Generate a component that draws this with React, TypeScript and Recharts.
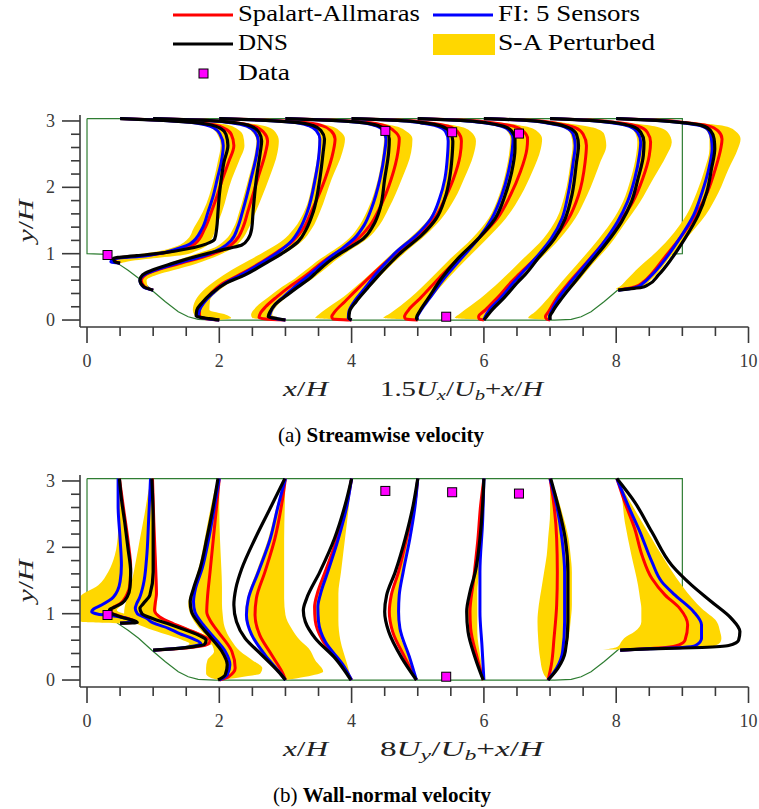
import React from 'react';
import { ComposedChart, Line, Area, XAxis, YAxis } from 'recharts';

// ---------- tick labels ----------
const X_TICKS = [0, 0.5, 1, 1.5, 2, 2.5, 3, 3.5, 4, 4.5, 5, 5.5, 6, 6.5, 7, 7.5, 8, 8.5, 9, 9.5, 10];
const Y_TICKS = [0, 0.2, 0.4, 0.6, 0.8, 1, 1.2, 1.4, 1.6, 1.8, 2, 2.2, 2.4, 2.6, 2.8, 3];

// ---------- geometry (hill + channel outline) ----------
const HILL_X = [0, 0.3, 0.47, 0.62, 0.78, 0.98, 1.18, 1.38, 1.53, 1.68, 1.93, 7.07, 7.32, 7.47, 7.62, 7.82, 8.02, 8.22, 8.38, 8.53, 8.7, 9.0];
const HILL_Y = [1.0, 0.99, 0.85, 0.75, 0.63, 0.45, 0.28, 0.125, 0.05, 0.01, 0, 0, 0.01, 0.05, 0.125, 0.28, 0.45, 0.63, 0.75, 0.85, 0.99, 1.0];
const TOP_WALL = 3.036;

// ---------- sensor locations ----------
const SENSOR_X = [0.31, 4.51, 5.52, 6.53, 5.43];
const SENSOR_Y = [0.98, 2.85, 2.83, 2.81, 0.05];

type P = [number, number];
type T = [number, number, number];

// ---------- (a) streamwise velocity: [y/H, 1.5Ux/Ub + x/H] per station ----------
const U_DNS: P[][] = [
  [[0.857,0.5],[0.88,0.42],[0.93,0.4],[0.97,0.75],[1.02,1.2],[1.07,1.5],[1.12,1.72],[1.17,1.86],[1.22,1.93],[1.38,1.96],[1.63,1.98],[1.88,2.0],[2.13,2.03],[2.38,2.07],[2.63,2.13],[2.8,2.1],[2.88,2.03],[2.94,1.88],[2.98,1.6],[3.01,1.15],[3.036,0.5]],
  [[0.45,1.0],[0.5,0.86],[0.6,0.8],[0.68,0.84],[0.75,0.98],[0.85,1.28],[0.98,1.73],[1.08,2.14],[1.13,2.34],[1.23,2.44],[1.38,2.49],[1.63,2.51],[2.13,2.56],[2.53,2.62],[2.7,2.64],[2.83,2.6],[2.92,2.48],[2.97,2.25],[3.01,1.8],[3.036,1.0]],
  [[0,2.0],[0.02,1.85],[0.06,1.65],[0.15,1.66],[0.25,1.73],[0.4,1.88],[0.55,2.09],[0.68,2.39],[0.85,2.69],[1.03,2.99],[1.18,3.19],[1.38,3.32],[1.63,3.42],[2.13,3.52],[2.53,3.57],[2.73,3.59],[2.85,3.54],[2.93,3.42],[2.98,3.15],[3.01,2.7],[3.036,2.0]],
  [[0,3.0],[0.02,2.88],[0.05,2.74],[0.13,2.77],[0.23,2.84],[0.35,2.99],[0.5,3.19],[0.63,3.37],[0.73,3.48],[0.93,3.72],[1.08,3.95],[1.23,4.18],[1.43,4.33],[1.68,4.43],[2.13,4.5],[2.53,4.56],[2.73,4.57],[2.85,4.52],[2.93,4.4],[2.98,4.12],[3.01,3.7],[3.036,3.0]],
  [[0,4.0],[0.03,3.96],[0.13,3.97],[0.28,4.07],[0.48,4.24],[0.73,4.46],[1.03,4.76],[1.28,5.06],[1.53,5.28],[1.83,5.41],[2.13,5.48],[2.48,5.52],[2.7,5.53],[2.84,5.48],[2.92,5.36],[2.97,5.1],[3.01,4.7],[3.036,4.0]],
  [[0,5.0],[0.03,4.98],[0.15,5.04],[0.33,5.16],[0.63,5.36],[0.93,5.61],[1.23,5.92],[1.53,6.17],[1.88,6.32],[2.23,6.42],[2.58,6.47],[2.73,6.47],[2.85,6.42],[2.92,6.3],[2.97,6.05],[3.01,5.65],[3.036,5.0]],
  [[0,6.0],[0.05,6.04],[0.15,6.12],[0.33,6.3],[0.58,6.52],[0.68,6.62],[0.93,6.82],[1.23,7.07],[1.53,7.23],[1.88,7.33],[2.38,7.4],[2.63,7.43],[2.8,7.4],[2.9,7.28],[2.96,7.05],[3.01,6.65],[3.036,6.0]],
  [[0,7.0],[0.05,7.0],[0.13,7.04],[0.33,7.18],[0.58,7.38],[0.83,7.58],[1.13,7.83],[1.48,8.08],[1.78,8.23],[2.13,8.33],[2.48,8.41],[2.68,8.42],[2.83,8.37],[2.92,8.24],[2.97,8.0],[3.01,7.6],[3.036,7.0]],
  [[0.45,8.03],[0.47,8.2],[0.49,8.38],[0.53,8.48],[0.68,8.64],[0.93,8.84],[1.23,9.04],[1.58,9.24],[1.93,9.37],[2.28,9.44],[2.58,9.49],[2.73,9.48],[2.85,9.43],[2.93,9.3],[2.97,9.05],[3.01,8.6],[3.036,8.0]],
];
const U_SA: P[][] = [
  [[0.857,0.5],[0.88,0.42],[0.93,0.45],[0.98,0.95],[1.03,1.25],[1.08,1.45],[1.15,1.63],[1.38,1.78],[1.63,1.88],[1.88,1.97],[2.13,2.05],[2.38,2.14],[2.63,2.22],[2.8,2.18],[2.88,2.09],[2.94,1.93],[2.98,1.63],[3.01,1.15],[3.036,0.5]],
  [[0.45,1.0],[0.5,0.87],[0.6,0.82],[0.68,0.88],[0.75,1.05],[0.85,1.4],[0.98,1.85],[1.08,2.1],[1.2,2.25],[1.4,2.36],[1.63,2.43],[2.13,2.58],[2.53,2.7],[2.7,2.73],[2.83,2.67],[2.92,2.52],[2.97,2.28],[3.01,1.8],[3.036,1.0]],
  [[0,2.0],[0.02,1.8],[0.06,1.7],[0.15,1.7],[0.25,1.75],[0.4,1.87],[0.55,2.05],[0.68,2.3],[0.85,2.6],[1.03,2.88],[1.18,3.1],[1.38,3.27],[1.63,3.39],[2.13,3.6],[2.53,3.72],[2.73,3.75],[2.85,3.69],[2.93,3.55],[2.98,3.25],[3.01,2.75],[3.036,2.0]],
  [[0,3.0],[0.015,2.7],[0.04,2.6],[0.1,2.62],[0.2,2.7],[0.35,2.87],[0.5,3.06],[0.63,3.25],[0.73,3.38],[0.93,3.64],[1.08,3.88],[1.23,4.1],[1.43,4.28],[1.68,4.42],[2.13,4.6],[2.53,4.7],[2.73,4.72],[2.85,4.64],[2.93,4.5],[2.98,4.2],[3.01,3.75],[3.036,3.0]],
  [[0,4.0],[0.015,3.72],[0.05,3.7],[0.13,3.75],[0.28,3.9],[0.48,4.1],[0.73,4.36],[1.03,4.7],[1.28,5.0],[1.53,5.25],[1.83,5.41],[2.13,5.54],[2.48,5.64],[2.7,5.66],[2.84,5.6],[2.92,5.46],[2.97,5.18],[3.01,4.75],[3.036,4.0]],
  [[0,5.0],[0.015,4.82],[0.05,4.8],[0.15,4.86],[0.33,5.04],[0.63,5.32],[0.93,5.62],[1.23,5.92],[1.53,6.2],[1.88,6.4],[2.23,6.55],[2.58,6.65],[2.73,6.66],[2.85,6.59],[2.92,6.45],[2.97,6.15],[3.01,5.72],[3.036,5.0]],
  [[0,6.0],[0.015,5.93],[0.05,5.92],[0.15,6.02],[0.33,6.2],[0.58,6.42],[0.68,6.52],[0.93,6.78],[1.23,7.06],[1.53,7.28],[1.88,7.43],[2.38,7.53],[2.63,7.55],[2.8,7.5],[2.9,7.38],[2.96,7.12],[3.01,6.7],[3.036,6.0]],
  [[0,7.0],[0.015,6.95],[0.05,6.93],[0.13,6.98],[0.33,7.1],[0.58,7.3],[0.83,7.52],[1.13,7.78],[1.48,8.05],[1.78,8.25],[2.13,8.4],[2.48,8.5],[2.68,8.52],[2.83,8.47],[2.92,8.33],[2.97,8.07],[3.01,7.65],[3.036,7.0]],
  [[0.45,8.03],[0.47,8.14],[0.5,8.28],[0.58,8.42],[0.68,8.52],[0.93,8.72],[1.23,8.96],[1.58,9.2],[1.93,9.38],[2.28,9.5],[2.58,9.58],[2.73,9.6],[2.85,9.54],[2.93,9.38],[2.97,9.1],[3.01,8.65],[3.036,8.0]],
];
const U_FI: P[][] = [
  [[0.857,0.5],[0.88,0.36],[0.92,0.4],[0.97,0.9],[1.02,1.18],[1.08,1.38],[1.15,1.56],[1.38,1.74],[1.63,1.83],[1.88,1.91],[2.13,1.97],[2.38,2.03],[2.63,2.06],[2.8,2.01],[2.88,1.94],[2.94,1.8],[2.98,1.55],[3.01,1.1],[3.036,0.5]],
  [[0.45,1.0],[0.5,0.85],[0.6,0.8],[0.68,0.86],[0.75,1.02],[0.85,1.35],[0.98,1.8],[1.08,2.03],[1.2,2.18],[1.4,2.28],[1.63,2.35],[2.13,2.48],[2.53,2.57],[2.7,2.59],[2.83,2.54],[2.92,2.42],[2.97,2.2],[3.01,1.75],[3.036,1.0]],
  [[0,2.0],[0.02,1.82],[0.06,1.68],[0.15,1.7],[0.25,1.76],[0.4,1.9],[0.55,2.08],[0.68,2.33],[0.85,2.62],[1.03,2.9],[1.18,3.08],[1.38,3.22],[1.63,3.33],[2.13,3.45],[2.53,3.51],[2.73,3.52],[2.85,3.47],[2.93,3.35],[2.98,3.1],[3.01,2.65],[3.036,2.0]],
  [[0,3.0],[0.02,2.86],[0.05,2.76],[0.13,2.78],[0.23,2.84],[0.35,2.97],[0.5,3.14],[0.63,3.3],[0.73,3.42],[0.93,3.65],[1.08,3.86],[1.23,4.04],[1.43,4.19],[1.68,4.3],[2.13,4.43],[2.53,4.5],[2.73,4.52],[2.85,4.48],[2.93,4.36],[2.98,4.08],[3.01,3.65],[3.036,3.0]],
  [[0,4.0],[0.03,3.95],[0.13,3.96],[0.28,4.04],[0.48,4.2],[0.73,4.4],[1.03,4.68],[1.28,4.98],[1.53,5.2],[1.83,5.33],[2.13,5.41],[2.48,5.45],[2.7,5.46],[2.84,5.42],[2.92,5.3],[2.97,5.05],[3.01,4.65],[3.036,4.0]],
  [[0,5.0],[0.03,4.99],[0.15,5.05],[0.33,5.18],[0.63,5.4],[0.93,5.66],[1.23,5.92],[1.53,6.12],[1.88,6.27],[2.23,6.37],[2.58,6.43],[2.73,6.44],[2.85,6.39],[2.92,6.27],[2.97,6.02],[3.01,5.6],[3.036,5.0]],
  [[0,6.0],[0.05,6.02],[0.15,6.08],[0.33,6.25],[0.58,6.46],[0.68,6.55],[0.93,6.78],[1.23,7.02],[1.53,7.18],[1.88,7.27],[2.38,7.35],[2.63,7.38],[2.8,7.35],[2.9,7.24],[2.96,7.0],[3.01,6.6],[3.036,6.0]],
  [[0,7.0],[0.05,6.99],[0.13,7.02],[0.33,7.13],[0.58,7.32],[0.83,7.53],[1.13,7.78],[1.48,8.02],[1.78,8.17],[2.13,8.28],[2.48,8.35],[2.68,8.37],[2.83,8.32],[2.92,8.2],[2.97,7.95],[3.01,7.55],[3.036,7.0]],
  [[0.45,8.03],[0.47,8.2],[0.5,8.32],[0.55,8.4],[0.68,8.54],[0.93,8.75],[1.23,8.96],[1.58,9.17],[1.93,9.3],[2.28,9.4],[2.58,9.45],[2.73,9.44],[2.85,9.4],[2.93,9.27],[2.97,9.02],[3.01,8.58],[3.036,8.0]],
];
const U_BAND: T[][] = [
  [[0.857,0.5,0.5],[0.88,0.36,0.6],[0.93,0.38,1.0],[0.98,0.7,1.45],[1.04,1.1,1.65],[1.1,1.32,1.78],[1.2,1.5,1.87],[1.4,1.62,1.95],[1.63,1.75,2.04],[2.13,1.92,2.19],[2.4,1.98,2.3],[2.63,2.02,2.38],[2.78,1.98,2.36],[2.88,1.9,2.27],[2.95,1.75,2.08],[3.0,1.3,1.5],[3.036,0.5,0.5]],
  [[0.45,1.0,1.0],[0.5,0.84,0.92],[0.6,0.78,0.9],[0.68,0.82,1.05],[0.75,0.95,1.3],[0.85,1.22,1.65],[0.98,1.6,2.0],[1.08,1.9,2.2],[1.2,2.08,2.33],[1.4,2.22,2.45],[1.63,2.3,2.55],[2.13,2.44,2.75],[2.53,2.54,2.88],[2.7,2.56,2.9],[2.83,2.5,2.85],[2.92,2.38,2.7],[2.97,2.15,2.4],[3.01,1.7,1.9],[3.036,1.0,1.0]],
  [[0,2.0,2.0],[0.03,1.7,2.18],[0.08,1.62,2.1],[0.15,1.6,1.85],[0.3,1.64,1.86],[0.45,1.76,2.0],[0.6,1.95,2.22],[0.75,2.18,2.5],[0.9,2.45,2.8],[1.03,2.68,3.03],[1.18,2.93,3.24],[1.38,3.13,3.4],[1.63,3.28,3.52],[2.13,3.42,3.7],[2.53,3.49,3.86],[2.73,3.5,3.9],[2.85,3.45,3.82],[2.93,3.33,3.65],[2.98,3.08,3.3],[3.01,2.6,2.8],[3.036,2.0,2.0]],
  [[0,3.0,3.0],[0.03,2.5,2.9],[0.08,2.48,2.8],[0.2,2.56,2.86],[0.35,2.75,3.02],[0.5,2.95,3.22],[0.63,3.15,3.42],[0.73,3.28,3.55],[0.93,3.54,3.8],[1.08,3.77,4.02],[1.23,3.96,4.24],[1.43,4.12,4.42],[1.68,4.25,4.56],[2.13,4.4,4.76],[2.53,4.47,4.9],[2.73,4.49,4.92],[2.85,4.45,4.82],[2.93,4.33,4.62],[2.98,4.05,4.3],[3.01,3.6,3.8],[3.036,3.0,3.0]],
  [[0,4.0,4.0],[0.03,3.45,3.98],[0.08,3.5,3.96],[0.2,3.66,4.02],[0.35,3.88,4.12],[0.5,4.06,4.28],[0.73,4.32,4.5],[1.03,4.64,4.82],[1.28,4.93,5.12],[1.53,5.17,5.36],[1.83,5.32,5.56],[2.13,5.4,5.7],[2.48,5.44,5.84],[2.7,5.45,5.88],[2.84,5.4,5.8],[2.92,5.28,5.62],[2.97,5.03,5.3],[3.01,4.6,4.85],[3.036,4.0,4.0]],
  [[0,5.0,5.0],[0.03,4.48,5.0],[0.1,4.58,5.02],[0.33,4.88,5.2],[0.63,5.2,5.46],[0.93,5.5,5.75],[1.23,5.82,6.05],[1.53,6.07,6.33],[1.88,6.23,6.56],[2.23,6.33,6.73],[2.58,6.39,6.86],[2.73,6.4,6.88],[2.85,6.35,6.8],[2.92,6.23,6.62],[2.97,5.98,6.3],[3.01,5.55,5.8],[3.036,5.0,5.0]],
  [[0,6.0,6.0],[0.03,5.56,6.0],[0.1,5.64,6.04],[0.33,5.95,6.28],[0.58,6.24,6.5],[0.93,6.6,6.86],[1.23,6.9,7.15],[1.53,7.1,7.38],[1.88,7.22,7.56],[2.38,7.31,7.76],[2.63,7.34,7.85],[2.8,7.31,7.82],[2.9,7.2,7.65],[2.96,6.98,7.3],[3.01,6.55,6.8],[3.036,6.0,6.0]],
  [[0,7.0,7.0],[0.03,6.67,7.0],[0.13,6.78,7.02],[0.33,6.97,7.18],[0.58,7.18,7.42],[0.83,7.4,7.63],[1.13,7.66,7.9],[1.48,7.93,8.15],[1.78,8.1,8.36],[2.13,8.22,8.56],[2.48,8.3,8.76],[2.68,8.32,8.84],[2.83,8.28,8.78],[2.92,8.15,8.58],[2.97,7.92,8.2],[3.01,7.5,7.75],[3.036,7.0,7.0]],
  [[0.45,8.03,8.03],[0.47,8.0,8.12],[0.5,8.05,8.38],[0.6,8.15,8.52],[0.8,8.35,8.7],[0.93,8.5,8.8],[1.23,8.8,9.06],[1.58,9.06,9.35],[1.93,9.22,9.55],[2.28,9.34,9.7],[2.58,9.41,9.84],[2.73,9.41,9.88],[2.85,9.37,9.8],[2.93,9.24,9.6],[2.97,9.0,9.25],[3.01,8.55,8.75],[3.036,8.0,8.0]],
];

// ---------- (b) wall-normal velocity: [y/H, 8Uy/Ub + x/H] per station ----------
const V_DNS: P[][] = [
  [[0.857,0.5],[0.865,0.76],[0.885,0.74],[0.92,0.62],[0.97,0.46],[1.02,0.34],[1.06,0.34],[1.1,0.42],[1.16,0.53],[1.26,0.61],[1.4,0.65],[1.63,0.66],[1.98,0.62],[2.38,0.57],[2.73,0.52],[3.036,0.49]],
  [[0.45,1.0],[0.47,1.3],[0.5,1.6],[0.54,1.78],[0.6,1.8],[0.67,1.7],[0.75,1.5],[0.83,1.28],[0.93,0.98],[1.0,0.83],[1.08,0.8],[1.15,0.85],[1.28,0.95],[1.63,1.0],[2.38,1.0],[3.036,0.98]],
  [[0,1.98],[0.08,2.09],[0.23,2.12],[0.43,2.04],[0.63,1.88],[0.83,1.71],[1.03,1.58],[1.18,1.56],[1.38,1.61],[1.68,1.71],[2.13,1.81],[2.63,1.91],[3.036,1.98]],
  [[0,3.0],[0.13,2.89],[0.38,2.64],[0.63,2.39],[0.88,2.26],[1.13,2.22],[1.38,2.25],[1.68,2.34],[2.13,2.54],[2.63,2.79],[3.036,2.99]],
  [[0,3.99],[0.33,3.75],[0.63,3.45],[0.88,3.3],[1.05,3.27],[1.23,3.32],[1.63,3.52],[2.13,3.74],[2.63,3.9],[3.036,4.0]],
  [[0,4.98],[0.33,4.76],[0.73,4.56],[1.03,4.5],[1.28,4.53],[1.63,4.66],[2.13,4.81],[2.63,4.93],[3.036,5.0]],
  [[0,5.99],[0.33,5.87],[0.73,5.76],[1.03,5.74],[1.33,5.79],[1.63,5.87],[2.13,5.94],[2.63,5.98],[3.036,6.0]],
  [[0,6.97],[0.18,7.12],[0.43,7.23],[0.88,7.27],[1.63,7.27],[2.13,7.23],[2.63,7.12],[3.036,7.01]],
  [[0.45,8.06],[0.47,8.5],[0.49,9.3],[0.52,9.7],[0.6,9.85],[0.73,9.87],[0.93,9.74],[1.18,9.44],[1.43,9.14],[1.73,8.84],[2.23,8.54],[2.68,8.28],[3.036,8.01]],
];
const V_SA: P[][] = [
  [[0.857,0.5],[0.87,0.72],[0.9,0.7],[0.94,0.58],[0.98,0.44],[1.03,0.36],[1.08,0.38],[1.15,0.5],[1.28,0.6],[1.45,0.65],[1.7,0.66],[2.1,0.62],[2.6,0.55],[3.036,0.49]],
  [[0.45,1.0],[0.47,1.35],[0.5,1.65],[0.55,1.84],[0.6,1.86],[0.66,1.76],[0.75,1.55],[0.85,1.3],[0.95,1.1],[1.05,1.02],[1.15,1.03],[1.3,1.05],[1.63,1.04],[2.38,1.01],[3.036,0.99]],
  [[0,2.0],[0.05,2.14],[0.18,2.24],[0.43,2.19],[0.73,1.98],[0.9,1.86],[1.03,1.81],[1.23,1.82],[1.63,1.86],[2.13,1.91],[2.63,1.96],[3.036,2.0]],
  [[0,3.0],[0.08,2.97],[0.38,2.79],[0.68,2.61],[0.98,2.54],[1.23,2.56],[1.63,2.69],[2.13,2.84],[2.63,2.94],[3.036,3.0]],
  [[0,4.0],[0.25,3.84],[0.6,3.56],[0.9,3.45],[1.1,3.44],[1.3,3.48],[1.63,3.6],[2.13,3.78],[2.63,3.92],[3.036,4.0]],
  [[0,4.98],[0.33,4.81],[0.73,4.62],[1.03,4.57],[1.28,4.6],[1.63,4.71],[2.13,4.83],[2.63,4.95],[3.036,5.0]],
  [[0,5.99],[0.33,5.9],[0.78,5.8],[1.03,5.79],[1.48,5.84],[2.13,5.91],[2.63,5.95],[3.036,6.0]],
  [[0,6.97],[0.23,7.02],[0.63,7.06],[1.13,7.1],[1.63,7.11],[2.13,7.1],[2.63,7.06],[3.036,7.0]],
  [[0.45,8.06],[0.47,8.45],[0.49,8.75],[0.53,8.95],[0.6,9.04],[0.83,9.08],[1.08,8.96],[1.28,8.74],[1.53,8.54],[1.88,8.39],[2.28,8.28],[2.68,8.13],[3.036,8.01]],
];
const V_FI: P[][] = [
  [[0.857,0.5],[0.875,0.68],[0.9,0.66],[0.93,0.6],[0.97,0.37],[0.99,0.17],[1.03,0.07],[1.07,0.1],[1.13,0.22],[1.25,0.4],[1.48,0.5],[1.73,0.52],[2.13,0.5],[2.63,0.47],[3.036,0.47]],
  [[0.45,1.0],[0.47,1.3],[0.5,1.55],[0.55,1.72],[0.63,1.58],[0.7,1.4],[0.78,1.23],[0.86,1.0],[0.93,0.9],[1.0,0.76],[1.08,0.73],[1.15,0.75],[1.23,0.79],[1.43,0.85],[1.83,0.9],[2.38,0.93],[3.036,0.96]],
  [[0,2.0],[0.08,2.12],[0.23,2.16],[0.43,2.09],[0.63,1.93],[0.83,1.76],[1.03,1.63],[1.18,1.61],[1.38,1.64],[1.68,1.74],[2.13,1.84],[2.63,1.93],[3.036,2.0]],
  [[0,3.0],[0.08,2.94],[0.38,2.69],[0.68,2.49],[0.98,2.41],[1.23,2.44],[1.63,2.59],[2.13,2.77],[2.63,2.89],[3.036,3.0]],
  [[0,4.0],[0.23,3.87],[0.58,3.6],[0.88,3.5],[1.1,3.49],[1.3,3.53],[1.63,3.64],[2.13,3.8],[2.63,3.93],[3.036,4.0]],
  [[0,4.98],[0.33,4.88],[0.78,4.73],[1.03,4.71],[1.28,4.72],[1.63,4.78],[2.13,4.88],[2.63,4.96],[3.036,5.0]],
  [[0,6.0],[0.53,5.97],[1.03,5.94],[1.63,5.94],[2.38,5.98],[3.036,6.0]],
  [[0,6.97],[0.18,7.1],[0.43,7.19],[0.88,7.22],[1.63,7.22],[2.13,7.18],[2.63,7.1],[3.036,7.0]],
  [[0.45,8.06],[0.47,8.5],[0.49,9.0],[0.52,9.2],[0.63,9.29],[0.83,9.29],[1.03,9.17],[1.28,8.89],[1.48,8.69],[1.78,8.54],[2.23,8.36],[2.63,8.18],[3.036,8.01]],
];
const V_BAND: T[][] = [
  [[0.857,0.5,0.5],[0.88,-0.1,0.75],[0.95,-0.1,0.7],[1.05,-0.1,0.45],[1.15,-0.1,0.55],[1.25,-0.1,0.62],[1.43,0.17,0.66],[1.63,0.32,0.67],[1.88,0.42,0.64],[2.23,0.47,0.6],[2.53,0.48,0.56],[2.8,0.47,0.52],[3.036,0.47,0.49]],
  [[0.45,1.0,1.0],[0.5,1.45,1.7],[0.55,1.55,1.9],[0.6,1.45,1.9],[0.67,1.25,1.8],[0.75,1.0,1.6],[0.85,0.75,1.35],[0.92,0.6,1.15],[1.0,0.56,1.05],[1.1,0.57,1.05],[1.3,0.63,1.06],[1.5,0.68,1.06],[1.8,0.74,1.05],[2.13,0.8,1.03],[2.5,0.87,1.0],[2.8,0.92,0.99],[3.036,0.97,0.98]],
  [[0,2.0,2.0],[0.04,1.86,2.3],[0.1,1.8,2.62],[0.18,1.8,2.65],[0.3,1.82,2.5],[0.43,1.92,2.32],[0.6,1.85,2.18],[0.8,1.68,2.08],[1.0,1.56,2.05],[1.15,1.53,2.04],[1.4,1.6,2.04],[1.7,1.69,2.03],[2.13,1.78,2.01],[2.6,1.87,2.0],[3.036,1.97,2.0]],
  [[0,3.0,3.0],[0.05,2.95,3.3],[0.13,2.88,3.57],[0.3,2.74,3.45],[0.48,2.6,3.35],[0.6,2.52,3.22],[0.78,2.44,3.09],[0.98,2.39,3.0],[1.23,2.42,2.98],[1.63,2.56,2.98],[2.13,2.74,2.98],[2.63,2.87,2.99],[3.036,2.99,3.0]],
  [[0,4.0,4.0],[0.25,3.83,3.93],[0.6,3.54,3.83],[0.9,3.46,3.8],[1.1,3.45,3.8],[1.3,3.49,3.8],[1.63,3.61,3.84],[2.13,3.78,3.9],[2.63,3.92,3.96],[3.036,4.0,4.0]],
  [[0,4.98,4.98],[0.33,4.82,4.87],[0.73,4.63,4.72],[1.03,4.58,4.7],[1.28,4.61,4.71],[1.63,4.71,4.77],[2.13,4.83,4.86],[2.63,4.94,4.95],[3.036,5.0,5.0]],
  [[0,6.0,6.0],[0.33,5.89,5.95],[0.73,5.78,5.9],[1.03,5.76,5.9],[1.33,5.8,5.9],[1.63,5.86,5.93],[2.13,5.92,5.96],[3.036,6.0,6.0]],
  [[0,6.97,6.97],[0.1,6.9,7.08],[0.33,6.85,7.2],[0.63,6.82,7.28],[0.88,6.81,7.31],[1.13,6.83,7.33],[1.38,6.87,7.33],[1.63,6.91,7.33],[1.88,6.95,7.31],[2.13,6.97,7.28],[2.53,7.0,7.18],[2.93,7.0,7.05],[3.036,7.0,7.0]],
  [[0.46,7.8,8.1],[0.48,7.95,9.2],[0.5,8.02,9.44],[0.58,8.08,9.58],[0.63,8.12,9.59],[0.73,8.28,9.57],[0.88,8.38,9.52],[1.08,8.38,9.29],[1.23,8.36,9.15],[1.43,8.33,8.99],[1.88,8.23,8.69],[2.38,8.13,8.39],[2.88,8.06,8.1],[3.036,8.01,8.01]],
];

// ---------- styling ----------
const AXIS = '#3a3a3a';
const GREEN = '#2e7d32';
const GOLD = '#ffd700';
const RED = '#ff0000';
const BLUE = '#0000ff';
const MAGENTA = '#ff00ff';
const SERIF = '"Liberation Serif", "Times New Roman", serif';

const toLine = (pts: P[]) => pts.map(([y, x]) => ({ y, x }));
const toBand = (pts: T[]) => pts.map(([y, lo, hi]) => ({ y, r: [lo, hi] }));

const OUTLINE = [
  { x: 0, y: TOP_WALL },
  ...HILL_X.map((x, i) => ({ x, y: HILL_Y[i] })),
  { x: 9, y: TOP_WALL },
  { x: 0, y: TOP_WALL },
];
const SENSORS = SENSOR_X.map((x, i) => ({ x, y: SENSOR_Y[i] }));

const XTick = (props: any) => {
  const { x, y, payload } = props;
  const v = payload.value as number;
  const major = Math.abs(v / 2 - Math.round(v / 2)) < 1e-6;
  return (
    <g>
      <line x1={x} x2={x} y1={y} y2={y + (major ? 16 : 9)} stroke={AXIS} strokeWidth={1.6} />
      {major && (
        <text x={x} y={y + 40} textAnchor="middle" fontFamily={SERIF} fontSize={18} fill={AXIS}>
          {v}
        </text>
      )}
    </g>
  );
};

const YTick = (props: any) => {
  const { x, y, payload } = props;
  const v = payload.value as number;
  const major = Math.abs(v - Math.round(v)) < 1e-6;
  return (
    <g>
      <line x1={x} x2={x - (major ? 18 : 9)} y1={y} y2={y} stroke={AXIS} strokeWidth={1.6} />
      {major && (
        <text x={x - 25} y={y + 6} textAnchor="end" fontFamily={SERIF} fontSize={18} fill={AXIS}>
          {Math.round(v)}
        </text>
      )}
    </g>
  );
};

const Square = (props: any) => {
  const { cx, cy, index } = props;
  if (cx == null || cy == null) return <g key={`s${index}`} />;
  return <rect key={`s${index}`} x={cx - 4.5} y={cy - 4.5} width={9} height={9} fill={MAGENTA} stroke="#000" strokeWidth={1} />;
};

const CHART_MARGIN = { top: 15, right: 10.5, bottom: 23, left: 20 };

const axes = (visible: boolean) => [
  <XAxis
    key="xa"
    type="number"
    dataKey="x"
    domain={[-0.106, 10]}
    allowDataOverflow
    ticks={X_TICKS}
    interval={0}
    height={50}
    tickLine={false}
    tickSize={0}
    tickMargin={0}
    axisLine={visible ? { stroke: AXIS, strokeWidth: 1.6 } : false}
    tick={visible ? XTick : false}
  />,
  <YAxis
    key="ya"
    type="number"
    dataKey="y"
    domain={[-0.105, 3.09]}
    allowDataOverflow
    reversed
    ticks={Y_TICKS}
    interval={0}
    width={60}
    tickLine={false}
    tickSize={0}
    tickMargin={0}
    axisLine={visible ? { stroke: AXIS, strokeWidth: 1.6 } : false}
    tick={visible ? YTick : false}
  />,
];

type PanelProps = { top: number; dns: P[][]; sa: P[][]; fi: P[][]; band: T[][] };

function Panel({ top, dns, sa, fi, band }: PanelProps) {
  return (
    <>
      {/* underlay: channel outline, beneath the gold bands */}
      <div style={{ position: 'absolute', left: 0, top, width: 759, height: 300 }}>
        <ComposedChart layout="vertical" width={759} height={300} margin={CHART_MARGIN}>
          {axes(false)}
          <Line data={OUTLINE} dataKey="x" type="linear" stroke={GREEN} strokeWidth={1.2} dot={false} activeDot={false} isAnimationActive={false} />
        </ComposedChart>
      </div>
      <div style={{ position: 'absolute', left: 0, top, width: 759, height: 300 }}>
        <ComposedChart layout="vertical" width={759} height={300} margin={CHART_MARGIN}>
          {axes(true)}
          {band.map((b, i) => (
            <Area key={`b${i}`} data={toBand(b)} dataKey="r" type="monotone" stroke="none" fill={GOLD} fillOpacity={1} dot={false} activeDot={false} isAnimationActive={false} />
          ))}
          {sa.map((s, i) => (
            <Line key={`sa${i}`} data={toLine(s)} dataKey="x" type="monotone" stroke={RED} strokeWidth={3} dot={false} activeDot={false} isAnimationActive={false} />
          ))}
          {fi.map((s, i) => (
            <Line key={`fi${i}`} data={toLine(s)} dataKey="x" type="monotone" stroke={BLUE} strokeWidth={3} dot={false} activeDot={false} isAnimationActive={false} />
          ))}
          {dns.map((s, i) => (
            <Line key={`dns${i}`} data={toLine(s)} dataKey="x" type="monotone" stroke="#000" strokeWidth={3.2} dot={false} activeDot={false} isAnimationActive={false} />
          ))}
          <Line data={SENSORS} dataKey="x" type="linear" stroke="none" dot={Square} activeDot={false} isAnimationActive={false} />
        </ComposedChart>
      </div>
    </>
  );
}

function Labels() {
  const mathLabel = (base: number, factor: string, sub: string) => (
    <g fontFamily={SERIF} fontSize={21} fill="#222">
      <text x={283} y={base} textLength={45} lengthAdjust="spacingAndGlyphs">
        <tspan fontStyle="italic">x</tspan>/<tspan fontStyle="italic">H</tspan>
      </text>
      <text x={380} y={base} textLength={163} lengthAdjust="spacingAndGlyphs">
        {factor}
        <tspan fontStyle="italic">U</tspan>
        <tspan fontStyle="italic" fontSize={15} dy={4}>{sub}</tspan>
        <tspan dy={-4}>/</tspan>
        <tspan fontStyle="italic">U</tspan>
        <tspan fontStyle="italic" fontSize={15} dy={4}>b</tspan>
        <tspan dy={-4}>+</tspan>
        <tspan fontStyle="italic">x</tspan>/<tspan fontStyle="italic">H</tspan>
      </text>
    </g>
  );
  const yLabel = (cy: number) => (
    <text transform={`translate(33,${cy}) rotate(-90)`} textAnchor="middle" fontFamily={SERIF} fontSize={22} fill="#222" textLength={43} lengthAdjust="spacingAndGlyphs">
      <tspan fontStyle="italic">y</tspan>/<tspan fontStyle="italic">H</tspan>
    </text>
  );
  return (
    <svg width={759} height={809} style={{ position: 'absolute', left: 0, top: 0 }}>
      {/* legend */}
      <g fontFamily={SERIF} fontSize={24} fill="#000">
        <line x1={173} x2={233} y1={15} y2={15} stroke={RED} strokeWidth={3} />
        <text x={238} y={21} textLength={182} lengthAdjust="spacingAndGlyphs">Spalart-Allmaras</text>
        <line x1={433} x2={493} y1={15} y2={15} stroke={BLUE} strokeWidth={3} />
        <text x={498} y={21} textLength={142} lengthAdjust="spacingAndGlyphs">FI: 5 Sensors</text>
        <line x1={173} x2={233} y1={44} y2={44} stroke="#000" strokeWidth={3} />
        <text x={238} y={50} textLength={50} lengthAdjust="spacingAndGlyphs">DNS</text>
        <rect x={433} y={34} width={62} height={21} fill={GOLD} />
        <text x={498} y={50} textLength={157} lengthAdjust="spacingAndGlyphs">S-A Perturbed</text>
        <rect x={199} y={69} width={9} height={9} fill={MAGENTA} stroke="#000" strokeWidth={1} />
        <text x={238} y={80} textLength={52} lengthAdjust="spacingAndGlyphs">Data</text>
      </g>
      {yLabel(221)}
      {yLabel(581)}
      {mathLabel(396, '1.5', 'x')}
      {mathLabel(756, '8', 'y')}
      <text x={381} y={442} textAnchor="middle" fontFamily={SERIF} fontSize={21} fill="#000">
        (a) <tspan fontWeight="bold">Streamwise velocity</tspan>
      </text>
      <text x={382} y={802} textAnchor="middle" fontFamily={SERIF} fontSize={21} fill="#000">
        (b) <tspan fontWeight="bold">Wall-normal velocity</tspan>
      </text>
    </svg>
  );
}

export default function App() {
  return (
    <div style={{ position: 'absolute', left: 0, top: 0, width: 759, height: 809, background: '#fff', overflow: 'hidden' }}>
      <Labels />
      <Panel top={100} dns={U_DNS} sa={U_SA} fi={U_FI} band={U_BAND} />
      <Panel top={460} dns={V_DNS} sa={V_SA} fi={V_FI} band={V_BAND} />
    </div>
  );
}
